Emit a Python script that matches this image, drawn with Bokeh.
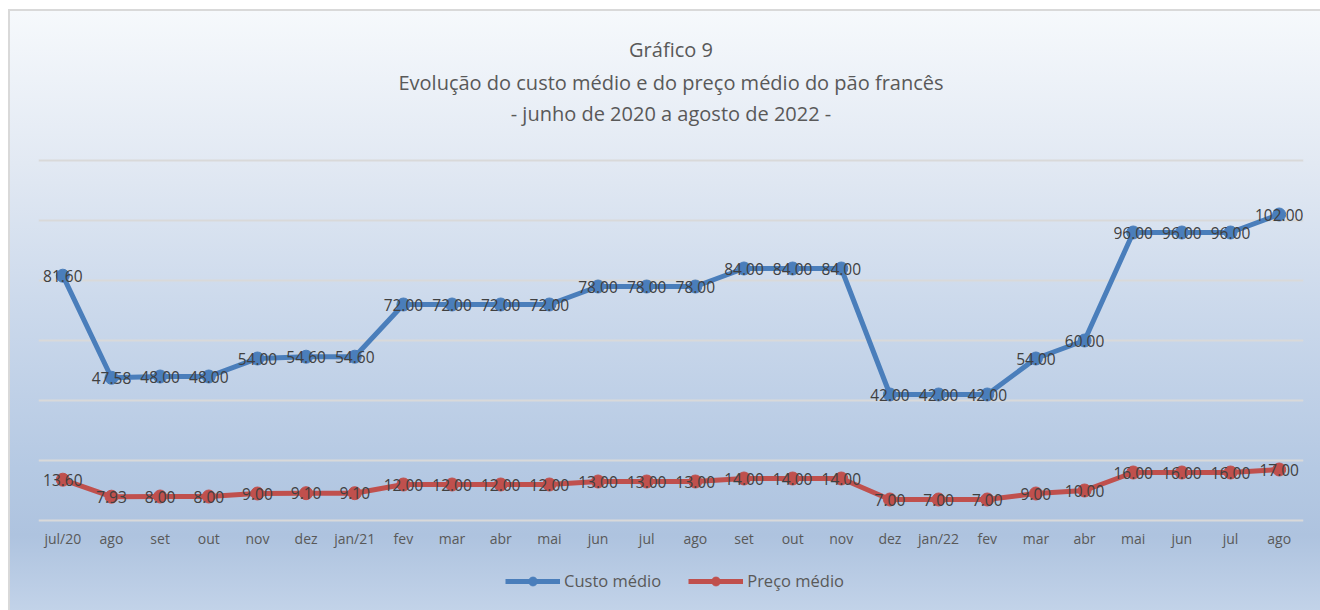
from bokeh.plotting import figure
from bokeh.models import ColumnDataSource, Legend, LegendItem, Title, FixedTicker, Range1d
from bokeh.core.properties import value
from bokeh.embed import file_html
from bokeh.resources import INLINE

months = ["jul/20", "ago", "set", "out", "nov", "dez", "jan/21", "fev", "mar", "abr",
          "mai", "jun", "jul", "ago", "set", "out", "nov", "dez", "jan/22", "fev",
          "mar", "abr", "mai", "jun", "jul", "ago"]
custo = [81.60, 47.58, 48.00, 48.00, 54.00, 54.60, 54.60, 72.00, 72.00, 72.00,
         72.00, 78.00, 78.00, 78.00, 84.00, 84.00, 84.00, 42.00, 42.00, 42.00,
         54.00, 60.00, 96.00, 96.00, 96.00, 102.00]
preco = [13.60, 7.93, 8.00, 8.00, 9.00, 9.10, 9.10, 12.00, 12.00, 12.00,
         12.00, 13.00, 13.00, 13.00, 14.00, 14.00, 14.00, 7.00, 7.00, 7.00,
         9.00, 10.00, 16.00, 16.00, 16.00, 17.00]
grid_ticks = [0, 20, 40, 60, 80, 100, 120]
title_lines = ["Gráfico 9",
               "Evolução do custo médio e do preço médio do pão francês",
               "- junho de 2020 a agosto de 2022 -"]
series_names = ["Custo médio", "Preço médio"]

FONT = "Open Sans"
BLUE = "#4a7ebb"
RED = "#c0504d"
GRAY = "#595959"

xs = list(range(len(months)))
src = ColumnDataSource(dict(
    x=xs, custo=custo, preco=preco,
    custo_lbl=[f"{v:.2f}" for v in custo],
    preco_lbl=[f"{v:.2f}" for v in preco],
))

# frame spans down to the bottom edge; the value axis keeps 3 px per unit
p = figure(width=1320, height=610, output_backend="svg", toolbar_location=None,
           x_range=Range1d(-0.5, len(months) - 0.5), y_range=Range1d(-30, 121),
           min_border_left=38, min_border_right=17, min_border_top=157, min_border_bottom=0)

p.background_fill_alpha = 0
p.border_fill_alpha = 0
p.outline_line_color = None
p.styles = {
    "background": ("linear-gradient(#d9d9d9,#d9d9d9) 8px 9px / 100% 2px no-repeat, "
                   "linear-gradient(#d9d9d9,#d9d9d9) 8px 9px / 2px 100% no-repeat, "
                   "linear-gradient(to bottom, #f6f9fc 0%, #e2e9f3 25%, #cad8eb 50%, "
                   "#b5c9e3 75%, #aec3df 86%, #c5d5ea 100%) 10px 11px / 100% 100% no-repeat, "
                   "#ffffff"),
}

# titles: spacer closest to the frame, then line 3, 2, 1
p.add_layout(Title(text=" ", text_font=FONT, text_font_size="20px", standoff=1), "above")
for t, s in zip(reversed(title_lines), [0, 4, 4]):
    p.add_layout(Title(text=t, align="center", vertical_align="middle", text_font=FONT,
                       text_font_size="20px", text_font_style="normal", text_color=GRAY,
                       standoff=s), "above")

# grid
p.xgrid.visible = False
p.ygrid.ticker = FixedTicker(ticks=grid_ticks)
p.ygrid.grid_line_color = "#d9d9d9"
p.ygrid.grid_line_width = 2

p.yaxis.visible = False
p.xaxis.fixed_location = 0
p.xaxis.ticker = FixedTicker(ticks=xs)
p.xaxis.major_label_overrides = {i: m for i, m in enumerate(months)}
p.xaxis.axis_line_color = None
p.xaxis.major_tick_line_color = None
p.xaxis.minor_tick_line_color = None
p.xaxis.major_label_text_font = FONT
p.xaxis.major_label_text_font_size = "14px"
p.xaxis.major_label_text_color = GRAY
p.xaxis.major_label_standoff = 2

l1 = p.line("x", "custo", source=src, line_color=BLUE, line_width=5)
m1 = p.scatter("x", "custo", source=src, size=13, fill_color=BLUE, line_color=BLUE)
l2 = p.line("x", "preco", source=src, line_color=RED, line_width=5)
m2 = p.scatter("x", "preco", source=src, size=13, fill_color=RED, line_color=RED)

for col in ["custo", "preco"]:
    p.text("x", col, text=col + "_lbl", source=src, text_align="center",
           text_baseline="middle", text_font=value(FONT), text_font_size="15.5px",
           text_color="#404040")

legend = Legend(items=[LegendItem(label=series_names[0], renderers=[l1, m1]),
                       LegendItem(label=series_names[1], renderers=[l2, m2])],
                orientation="horizontal", location=(467, 18),
                background_fill_alpha=0, border_line_color=None,
                label_text_font=FONT, label_text_font_size="16.5px", label_text_color=GRAY,
                glyph_width=55, glyph_height=22, spacing=27, label_standoff=4,
                margin=0, padding=0)
p.add_layout(legend, "center")

open("out.html", "w").write(file_html(p, INLINE))
